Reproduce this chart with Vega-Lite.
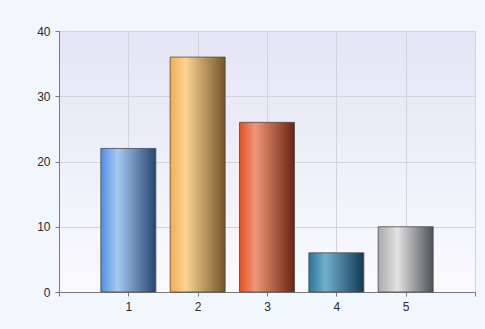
{
  "$schema": "https://vega.github.io/schema/vega-lite/v6.json",
  "width": 416,
  "height": 261,
  "autosize": {"type": "none"},
  "padding": {"left": 59, "top": 31, "right": 10, "bottom": 37},
  "background": "#f2f7fd",
  "data": {"values": [
    {"k": 1, "v": 22},
    {"k": 2, "v": 36},
    {"k": 3, "v": 26},
    {"k": 4, "v": 6},
    {"k": 5, "v": 10}
  ]},
  "mark": {"type": "bar", "width": 55, "stroke": "#4a4a4a", "strokeWidth": 1, "strokeOpacity": 0.8},
  "encoding": {
    "x": {
      "field": "k", "type": "quantitative",
      "scale": {"domain": [0, 6], "nice": false, "padding": 0},
      "axis": {"title": null, "values": [0, 1, 2, 3, 4, 5, 6], "gridValues": [1, 2, 3, 4, 5, 6],
               "labelExpr": "datum.value >= 1 && datum.value <= 5 ? datum.label : ''"}
    },
    "y": {
      "field": "v", "type": "quantitative",
      "scale": {"domain": [0, 40], "nice": false, "padding": 0},
      "axis": {"title": null, "values": [0, 10, 20, 30, 40]}
    },
    "fill": {
      "condition": [
        {"test": "datum.k == 1", "value": {"gradient": "linear", "x1": 0, "x2": 1, "y1": 0, "y2": 0,
          "stops": [{"offset": 0, "color": "#4d8fe0"}, {"offset": 0.3, "color": "#a6c9f2"}, {"offset": 1, "color": "#264670"}]}},
        {"test": "datum.k == 2", "value": {"gradient": "linear", "x1": 0, "x2": 1, "y1": 0, "y2": 0,
          "stops": [{"offset": 0, "color": "#f4ae4f"}, {"offset": 0.28, "color": "#fbd494"}, {"offset": 1, "color": "#745428"}]}},
        {"test": "datum.k == 3", "value": {"gradient": "linear", "x1": 0, "x2": 1, "y1": 0, "y2": 0,
          "stops": [{"offset": 0, "color": "#e0501f"}, {"offset": 0.28, "color": "#f0967a"}, {"offset": 1, "color": "#6a2410"}]}},
        {"test": "datum.k == 4", "value": {"gradient": "linear", "x1": 0, "x2": 1, "y1": 0, "y2": 0,
          "stops": [{"offset": 0, "color": "#2a7598"}, {"offset": 0.3, "color": "#6fb0cc"}, {"offset": 1, "color": "#123a52"}]}}
      ],
      "value": {"gradient": "linear", "x1": 0, "x2": 1, "y1": 0, "y2": 0,
        "stops": [{"offset": 0, "color": "#a8aaac"}, {"offset": 0.35, "color": "#e2e2e2"}, {"offset": 1, "color": "#4e5256"}]}
    }
  },
  "config": {
    "view": {
      "fill": {"gradient": "linear", "x1": 0, "x2": 0, "y1": 0, "y2": 1,
        "stops": [{"offset": 0, "color": "#e4e4f5"}, {"offset": 1, "color": "#fafafe"}]},
      "stroke": "#d4d4dc"
    },
    "axis": {
      "domainColor": "#7a7a7a",
      "tickColor": "#7a7a7a",
      "tickSize": 4,
      "gridColor": "#d2d2dc",
      "gridOpacity": 1,
      "labelFont": "Liberation Sans",
      "labelFontSize": 12,
      "labelColor": "#2a2a2a",
      "labelPadding": 5
    }
  }
}
